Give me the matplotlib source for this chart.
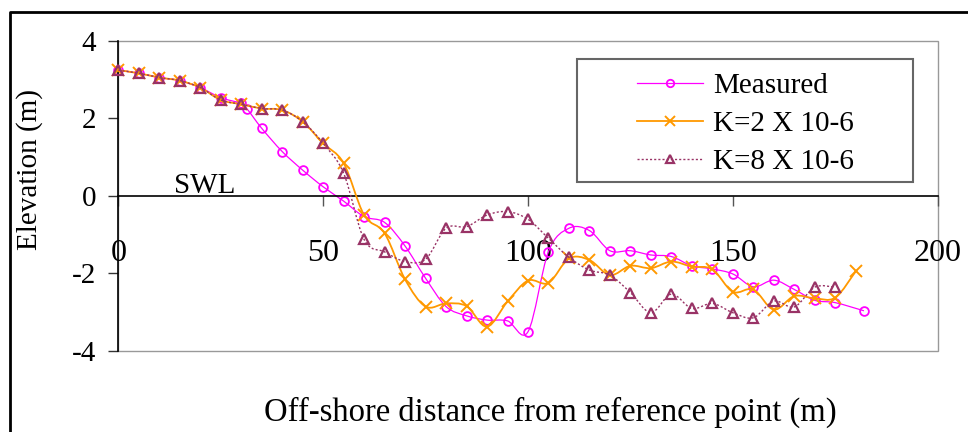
import numpy as np
import matplotlib
matplotlib.use("Agg")
import matplotlib.pyplot as plt
from matplotlib.path import Path
from matplotlib.patches import PathPatch, Rectangle
from matplotlib.lines import Line2D

plt.rcParams["font.family"] = ["Liberation Serif", "DejaVu Serif"]

# Beach profile: off-shore distance (m) and elevation (m)
measured_x = [0, 5, 10, 15, 20, 25, 30, 31.5, 35, 40, 45, 50, 55, 60, 65, 70, 75, 80,
              85, 90, 95, 100, 105, 110, 115, 120, 125, 130, 135, 140, 145, 150, 155,
              160, 165, 170, 175, 182]
measured_y = [3.24, 3.16, 3.05, 2.97, 2.79, 2.53, 2.38, 2.23, 1.74, 1.14, 0.66, 0.23,
              -0.14, -0.54, -0.69, -1.30, -2.13, -2.86, -3.10, -3.21, -3.23, -3.51,
              -1.44, -0.84, -0.90, -1.42, -1.42, -1.53, -1.57, -1.81, -1.89, -2.02,
              -2.35, -2.18, -2.42, -2.70, -2.76, -2.97]

k2_x = [0, 5, 10, 15, 20, 25, 30, 35, 40, 45, 50, 55, 60, 65, 70, 75, 80, 85, 90, 95,
        100, 105, 110, 115, 120, 125, 130, 135, 140, 145, 150, 155, 160, 165, 170, 175, 180]
k2_y = [3.24, 3.16, 3.05, 2.97, 2.79, 2.47, 2.36, 2.25, 2.21, 1.91, 1.35, 0.84, -0.50,
        -0.97, -2.16, -2.86, -2.78, -2.85, -3.38, -2.73, -2.19, -2.25, -1.62, -1.66,
        -2.05, -1.81, -1.87, -1.70, -1.83, -1.90, -2.48, -2.42, -2.94, -2.59, -2.65,
        -2.63, -1.95]

k8_x = [0, 5, 10, 15, 20, 25, 30, 35, 40, 45, 50, 55, 60, 65, 70, 75, 80, 85, 90, 95,
        100, 105, 110, 115, 120, 125, 130, 135, 140, 145, 150, 155, 160, 165, 170, 175]
k8_y = [3.24, 3.16, 3.05, 2.97, 2.79, 2.47, 2.36, 2.25, 2.21, 1.91, 1.35, 0.58, -1.13,
        -1.45, -1.70, -1.64, -0.84, -0.80, -0.50, -0.41, -0.61, -1.10, -1.59, -1.92,
        -2.05, -2.50, -3.02, -2.54, -2.91, -2.78, -3.02, -3.15, -2.72, -2.87, -2.36,
        -2.36]

series_labels = ["Measured", "K=2 X 10-6", "K=8 X 10-6"]
x_ticks = [0, 50, 100, 150, 200]
y_ticks = [-4, -2, 0, 2, 4]

MAGENTA = "#FF00FF"
ORANGE = "#FF9900"
PLUM = "#993366"
FS = 21

W, H = 968, 432


def smooth_path(xs, ys):
    """Cubic Bezier path through the points (Catmull-Rom style tangents)."""
    pts = np.column_stack([xs, ys]).astype(float)
    n = len(pts)
    verts = [pts[0]]
    codes = [Path.MOVETO]
    for i in range(n - 1):
        p0 = pts[i - 1] if i > 0 else pts[i]
        p1 = pts[i]
        p2 = pts[i + 1]
        p3 = pts[i + 2] if i + 2 < n else pts[i + 1]
        verts += [p1 + (p2 - p0) / 6.0, p2 - (p3 - p1) / 6.0, p2]
        codes += [Path.CURVE4] * 3
    return Path(verts, codes)


fig = plt.figure(figsize=(W / 100, H / 100), dpi=100)
ax = fig.add_axes([118.3 / W, 1 - 350.7 / H, (937.7 - 118.3) / W, (350.7 - 40.7) / H])
ax.set_xlim(0, 200)
ax.set_ylim(-4, 4)

# plot-area border
ax.add_patch(Rectangle((0, 0), 1, 1, transform=ax.transAxes, fill=False,
                       edgecolor="#999999", lw=1.0, zorder=0.5, clip_on=False))

ax.spines["top"].set_visible(False)
ax.spines["right"].set_visible(False)
ax.spines["bottom"].set_position(("data", 0))
ax.spines["bottom"].set_linewidth(1.2)
ax.spines["left"].set_linewidth(1.2)

ax.set_xticks(x_ticks)
ax.set_yticks(y_ticks)
ax.set_xticklabels([str(v) for v in x_ticks])
ax.set_yticklabels([str(v) for v in y_ticks])
ax.tick_params(axis="x", direction="out", length=7, width=1, color="#555555",
               pad=24, labelsize=23)
ax.tick_params(axis="y", direction="out", length=7, width=1, color="#333333",
               pad=9, labelsize=FS)

styles = [
    dict(color=MAGENTA, lw=0.9, ls="-", marker="o", ms=6.3, mew=1.3, mfc="none"),
    dict(color=ORANGE, lw=1.3, ls="-", marker="x", ms=8, mew=1.4, mfc="none"),
    dict(color=PLUM, lw=1.0, ls=(0, (1.5, 1.5)), marker="^", ms=7.3, mew=1.6, mfc="none"),
]
data = [(measured_x, measured_y), (k2_x, k2_y), (k8_x, k8_y)]

handles = []
for z, ((xs, ys), st) in enumerate(zip(data, styles)):
    ax.add_patch(PathPatch(smooth_path(xs, ys), facecolor="none", edgecolor=st["color"],
                           lw=st["lw"], ls=st["ls"], zorder=2 + z, clip_on=False))
    ax.plot(xs, ys, linestyle="none", marker=st["marker"], ms=st["ms"], mew=st["mew"],
            mfc=st["mfc"], mec=st["color"], zorder=2.5 + z, clip_on=False)
    handles.append(Line2D([], [], color=st["color"], lw=st["lw"], ls=st["ls"],
                          marker=st["marker"], ms=st["ms"] * 0.85, mew=st["mew"],
                          mfc=st["mfc"], mec=st["color"]))

ax.text(21, 0.07, "SWL", ha="center", va="baseline", fontsize=FS)

leg = fig.legend(handles, series_labels, loc="upper left",
                 bbox_to_anchor=(637 / W, 1 - 73 / H), bbox_transform=fig.transFigure,
                 frameon=False, borderpad=0, borderaxespad=0, fontsize=FS,
                 handlelength=2.26, handletextpad=0.34, labelspacing=0.39)
fig.add_artist(Rectangle((577 / W, 1 - 182 / H), (913 - 577) / W, (182 - 59) / H,
                         transform=fig.transFigure, fill=False, edgecolor="#666666",
                         lw=1.5))

fig.text(29.5 / W, 1 - 169 / H, "Elevation (m)", rotation=90, ha="center",
         va="center", fontsize=FS)
fig.text(550 / W, 1 - 412 / H, "Off-shore distance from reference point (m)",
         ha="center", va="center", fontsize=23.5)

# outer chart frame
fig.add_artist(Line2D([10 / W, 10 / W, 1.0], [0.0, 1 - 11.5 / H, 1 - 11.5 / H],
                      transform=fig.transFigure, color="black", lw=2.0))

fig.savefig("out.png", dpi=100)
